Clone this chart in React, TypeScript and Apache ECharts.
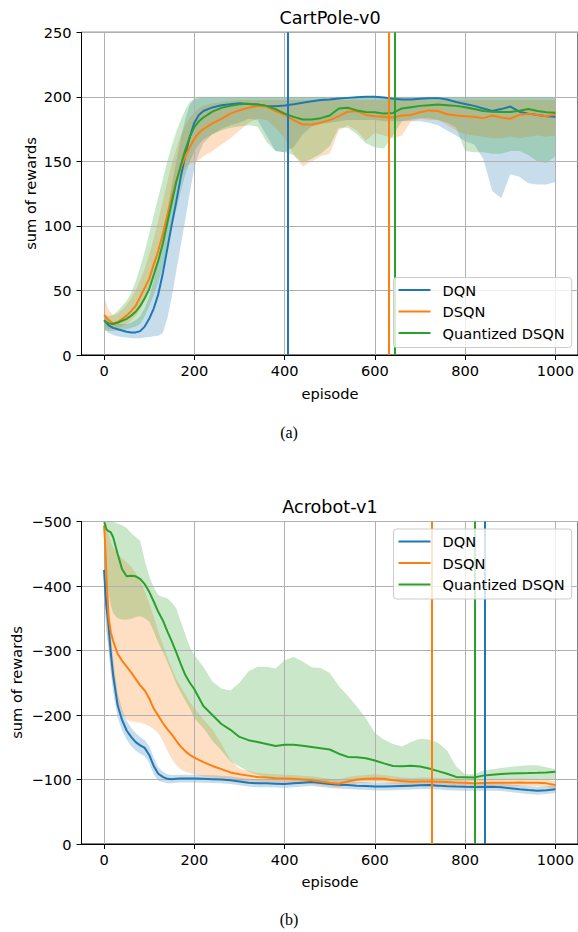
import React, { useEffect, useRef } from 'react';
import * as echarts from 'echarts';

// ---------------- data ----------------
const NAMES = ['DQN', 'DSQN', 'Quantized DSQN'];
const COLORS = ['#1f77b4', '#ff7f0e', '#2ca02c'];
const BAND_COLORS = ['rgba(31,119,180,0.25)', 'rgba(255,127,14,0.25)', 'rgba(44,160,44,0.25)'];
const X_TICKS = [0, 200, 400, 600, 800, 1000];

// (a) CartPole-v0
const EP_A = [0, 10, 20, 30, 40, 50, 60, 70, 80, 90, 100, 110, 120, 130, 140, 150, 160, 170, 180, 190, 200, 210, 220,
  240, 260, 280, 300, 320, 340, 360, 380, 400, 420, 440, 460, 480, 500, 520, 540, 560, 580, 600, 620,
  640, 660, 680, 700, 720, 740, 760, 780, 800, 820, 840, 860, 880, 900, 920, 940, 960, 980, 1000];

const DQN_A_MEAN = [27, 23, 21, 20, 19, 18, 17.5, 17.5, 18.5, 22, 28, 36, 47, 63, 82, 101, 119, 138, 155, 169, 180, 186, 189,
  191.8, 193.5, 194.3, 195, 194.5, 194, 193, 192.7, 193.3, 194.3, 195.5, 196.5, 197.5, 198, 198.7, 199.2, 199.7, 200, 200, 199.5,
  198.5, 198, 198, 198.5, 199, 199, 198, 196, 194.5, 193, 191, 189, 190.5, 192.5, 188.5, 187, 186, 185, 184.5];
const DQN_A_LO = [20, 17, 15.5, 14.5, 14, 13.5, 13, 13, 13, 13.5, 14, 14.5, 15, 17, 28, 45, 65, 85, 105, 126, 145, 156, 164,
  171, 175, 178, 180, 183, 182, 170, 158, 157, 161, 171, 177, 179, 180, 181, 182, 182, 182, 182, 181,
  181, 181, 181, 181, 180, 178, 174, 170, 165.5, 163, 152, 127, 121.5, 140, 138, 133, 132, 132, 134];
const DQN_A_HI = [33, 28, 25, 24, 24, 24, 25, 27, 30, 36, 45, 58, 74, 92, 112, 132, 150, 168, 183, 194, 198, 199, 199.5,
  199.5, 199.5, 199.5, 199.5, 199.5, 199.5, 199.5, 199.5, 199.5, 199.5, 199.5, 199.5, 199.5, 199.5, 199.5, 199.5, 199.5, 199.5, 199.5, 199.5,
  199.5, 199.5, 199.5, 199.5, 199.5, 199.5, 199.5, 199.5, 199.5, 199.5, 199.5, 199.5, 199.5, 199.5, 199.5, 199.5, 199.5, 199.5, 199.5];

const DSQN_A_MEAN = [31, 27, 24.5, 25.5, 28, 30.5, 34, 38, 45, 52, 59, 70, 80.5, 93.5, 108, 122, 135, 145, 154, 161, 167.5, 172, 175,
  179.5, 183, 187, 189.5, 191.5, 193, 192.5, 189, 186, 182, 178.5, 178.5, 180, 182, 185, 188.5, 189, 186, 185, 184.5,
  184, 185.5, 186, 188, 189.5, 189, 186.5, 185.5, 185, 184.5, 183.5, 185.5, 184, 183, 186, 187, 186, 185, 186.5];
const DSQN_A_LO = [22, 20, 20, 21, 22, 24, 27, 30, 35, 42, 51, 62, 75, 90, 106, 120, 132, 140, 145, 148, 149, 151, 154,
  158, 163, 168, 174, 180, 183, 182, 176, 168, 155, 146, 150, 154, 156, 174, 178, 174, 166, 172, 170,
  168, 170, 181, 183, 182, 182, 178, 174, 171, 170, 169, 168, 168, 169, 168, 169, 170, 169, 170];
const DSQN_A_HI = [45, 35, 31, 32, 35, 39, 44, 50, 58, 67, 78, 90, 104, 119, 134, 148, 160, 170, 178, 184, 188, 191, 193,
  195, 196, 197, 197.5, 197.5, 197.5, 197.5, 197.5, 197.5, 197.5, 197.5, 197.5, 197.5, 197.5, 197.5, 197.5, 197.5, 197.5, 197.5, 197.5,
  197.5, 197.5, 197.5, 197.5, 197.5, 197.5, 197.5, 197.5, 197.5, 197.5, 197.5, 197.5, 197.5, 197.5, 197.5, 197.5, 197.5, 197.5, 197.5];

const QD_A_MEAN = [26.5, 24.5, 24, 25, 26.5, 28, 30.5, 33.5, 38, 44, 51, 62, 73, 86, 102, 118, 134, 147, 159, 169, 176.5, 181, 184,
  188.5, 191.5, 193, 194.3, 194.7, 194, 193, 190.5, 187, 184.5, 182.5, 182.5, 183.5, 185.5, 191, 191.5, 189.5, 188.3, 188, 187,
  187.5, 191, 192, 193, 193.5, 194, 193.5, 193, 192, 190.5, 189, 188.5, 188.3, 188.3, 189.3, 190.5, 189, 188, 187.6];
const QD_A_LO = [19, 18.5, 18.5, 19, 19.5, 20, 21, 22, 24, 30, 38, 46, 56, 68, 84, 100, 113, 127, 140, 150, 158, 163, 167,
  171, 174, 176, 177, 178, 177, 165, 158, 157, 155, 149, 152, 156, 162, 176, 176, 171, 164, 161, 160,
  170, 181, 182.5, 183.5, 183.5, 182, 180, 176, 158, 157, 157, 156, 156, 158, 158, 155, 150, 149, 154];
const QD_A_HI = [31, 30, 31, 34, 38, 42, 48, 57, 68, 80, 94, 108, 122, 136, 150, 162, 173, 182, 190, 196, 199, 200, 200,
  200, 200, 200, 200, 200, 200, 200, 200, 200, 200, 200, 200, 200, 200, 200, 200, 200, 200, 200, 200,
  200, 200, 200, 200, 200, 200, 200, 200, 200, 200, 200, 200, 200, 200, 200, 200, 200, 200, 200];

const VLINES_A = [407, 630, 644];

// (b) Acrobot-v1
const EP_B = [0, 2, 5, 10, 15, 20,
  30, 40, 50, 60, 70, 80, 90, 100, 110, 120,
  130, 140, 150, 160, 170, 180, 190, 200,
  220, 240, 260, 280, 300, 320, 340, 360, 380, 400,
  420, 440, 460, 480, 500, 520, 540, 560, 580, 600,
  620, 640, 660, 680, 700, 720, 740, 760, 780, 800,
  820, 840, 860, 880, 900, 920, 940, 960, 980, 1000];

const DQN_B_MEAN = [-425, -400, -370, -338, -295, -262,
  -215, -192, -176, -166, -158, -153, -149, -138, -121, -109,
  -104, -101, -100.5, -101, -101.5, -101.5, -101.5, -101.5,
  -101, -100.5, -100, -99, -97, -95, -94, -94, -93.5, -93,
  -94, -95, -96, -94.5, -93, -92, -91.3, -90.5, -90, -89,
  -89, -89.5, -90, -90.5, -91, -91.3, -90.5, -89.5, -89, -88.7,
  -88.5, -88.5, -88.7, -88, -86.5, -85, -83.6, -82.5, -83.5, -85];
const DQN_B_LO = [-470, -445, -410, -370, -325, -290,
  -235, -208, -191, -180, -172, -166, -161, -152, -134, -119,
  -112, -108, -107, -107, -107.5, -107.5, -107.5, -107.5,
  -107, -106.5, -106, -105, -103, -101, -100, -100, -99.5, -99,
  -100, -101, -102, -100.5, -99, -98, -97.3, -96.5, -96, -95,
  -95, -95.5, -96, -96.5, -97, -97.3, -96.5, -95.5, -95, -94.7,
  -94.5, -94.5, -94.7, -94, -92.5, -91, -89.6, -88.5, -89.5, -91];
const DQN_B_HI = [-390, -360, -330, -305, -265, -236,
  -196, -176, -162, -152, -145, -140, -136, -126, -108, -98,
  -96, -94, -94, -95, -95.5, -95.5, -95.5, -95.5,
  -95, -94.5, -94, -93, -91, -89, -88, -88, -87.5, -87,
  -88, -89, -90, -88.5, -87, -86, -85.3, -84.5, -84, -83,
  -83, -83.5, -84, -84.5, -85, -85.3, -84.5, -83.5, -83, -82.7,
  -82.5, -82.5, -82.7, -82, -80.5, -79, -77.6, -76.5, -77.5, -79];

const DSQN_B_MEAN = [-494, -470, -420, -352, -328, -315,
  -295, -284, -275, -266, -256, -246, -238, -226, -210, -199,
  -188, -178, -170, -160, -151, -144, -138, -134,
  -127, -121, -116, -111, -108, -106, -104, -103, -102, -101.5,
  -101, -100, -99, -97, -95, -93.5, -97, -100, -101, -101.7,
  -101, -99, -97.5, -96.5, -97, -97, -96.5, -96, -95.5, -95,
  -94, -94.5, -95, -95, -95, -95.5, -95, -95, -94, -91.5];
const DSQN_B_LO = [-500, -499, -494, -480, -468, -460,
  -450, -443, -437, -430, -420, -408, -392, -373, -353, -330,
  -310, -290, -273, -256, -244, -232, -220, -211,
  -193, -178, -155, -130, -117, -113, -110, -109, -108, -107.5,
  -107, -106, -105, -103, -101, -100, -104, -106, -107, -108,
  -107, -105, -103.5, -102.5, -103, -103, -102.5, -102, -101.5, -101,
  -100, -100.5, -101, -101, -101, -101.5, -101, -101, -100, -97.5];
const DSQN_B_HI = [-420, -385, -345, -300, -270, -250,
  -218, -202, -193, -190, -189, -188, -186, -183, -178, -172,
  -160, -145, -132, -122, -116, -112, -110, -108,
  -105, -103, -101, -99.5, -98, -97, -96.5, -96, -95.5, -95.5,
  -95, -94, -93, -91, -89, -87.5, -91, -94, -95, -95.5,
  -95, -93, -91.5, -90.5, -91, -91, -90.5, -90, -89.5, -89,
  -88, -88.5, -89, -89, -89, -89.5, -89, -89, -88, -85.5];

const QD_B_MEAN = [-499, -496, -488, -485, -483, -476,
  -450, -426, -415, -416, -415, -411, -403, -391, -376, -360,
  -347, -330, -314, -297, -279, -262, -250, -240,
  -214, -200, -186, -177, -166, -161, -158, -155, -152, -154,
  -154, -152.5, -150.5, -148.5, -146.5, -140, -135, -134.5, -133, -129.5,
  -125, -121, -120.5, -121.5, -120, -117, -113, -109, -104, -103.5,
  -103, -106, -107.5, -108.5, -109.4, -109.8, -110, -110.4, -111, -112];
const QD_B_LO = [-500, -500, -500, -500, -500, -500,
  -497, -494, -490, -482, -476, -470, -440, -415, -398, -386,
  -383, -381, -375, -365, -345, -325, -305, -293,
  -275, -252, -241, -238, -250, -268, -275, -275, -272, -285,
  -290, -283, -274, -273, -265, -245, -230, -213, -195, -172,
  -162, -155, -151, -158, -163, -162, -157, -145, -120, -108,
  -108, -114, -116, -118, -119.6, -121, -122, -122, -119, -116];
const QD_B_HI = [-470, -450, -420, -390, -370, -358,
  -350, -348, -348, -349, -352, -353, -350, -345, -330, -312,
  -298, -282, -266, -248, -235, -222, -210, -195,
  -180, -160, -145, -128, -120, -112, -107, -103, -101, -100,
  -99, -98.5, -98, -98, -97.5, -97, -97, -97.5, -98, -98,
  -98, -97.5, -97, -96.5, -97, -97, -97, -97, -97.5, -98,
  -98, -98.5, -99, -99, -99.5, -99.5, -100, -100, -100, -100];

const VLINES_B = [844, 726, 822];

// ---------------- styling ----------------
const FONT = 'DejaVu Sans';
const FS = 14.6;
const LEGEND_ICON = 'path://M0 0H32V2H0Z';

function bandSeries(idx: number, ep: number[], lo: number[], hi: number[], color: string, name: string) {
  return {
    type: 'custom',
    name,
    xAxisIndex: idx,
    yAxisIndex: idx,
    silent: true,
    z: 0,
    data: [[ep[0], lo[0]]],
    renderItem: (_params: any, api: any) => {
      const upper = ep.map((x, i) => api.coord([x, hi[i]]));
      const lower = ep.map((x, i) => api.coord([x, lo[i]])).reverse();
      return {
        type: 'polygon',
        shape: { points: upper.concat(lower) },
        style: { fill: color, stroke: 'none' },
      };
    },
  };
}

function lineSeries(idx: number, ep: number[], vals: number[], color: string, name: string, vline: number) {
  return {
    type: 'line',
    name,
    xAxisIndex: idx,
    yAxisIndex: idx,
    data: ep.map((x, i) => [x, vals[i]]),
    symbol: 'none',
    showSymbol: false,
    z: 3,
    lineStyle: { color, width: 2 },
    itemStyle: { color },
    emphasis: { disabled: true },
    markLine: {
      silent: true,
      symbol: ['none', 'none'],
      label: { show: false },
      lineStyle: { color, width: 2, type: 'solid' },
      data: [{ xAxis: vline }],
      animation: false,
    },
  };
}

const minus = (v: number) => (v < 0 ? '\u2212' + String(-v) : String(v));

function xAxis(idx: number) {
  return {
    type: 'value',
    gridIndex: idx,
    min: -50,
    max: 1050,
    z: 1,
    axisLine: { onZero: false, lineStyle: { color: '#000', width: 1 } },
    axisTick: { show: true, length: 5, inside: false, lineStyle: { color: '#000', width: 1 }, customValues: X_TICKS },
    axisLabel: { customValues: X_TICKS, color: '#000', fontFamily: FONT, fontSize: FS, margin: 8, formatter: (v: number) => String(v) },
    splitLine: { show: true, lineStyle: { color: '#b0b0b0', width: 1 } },
  };
}

function yAxis(idx: number, min: number, max: number, interval: number, inverse: boolean) {
  return {
    type: 'value',
    gridIndex: idx,
    min,
    max,
    interval,
    inverse,
    z: 1,
    axisLine: { onZero: false, lineStyle: { color: '#000', width: 1 } },
    axisTick: { show: true, length: 5, inside: false, lineStyle: { color: '#000', width: 1 } },
    axisLabel: { color: '#000', fontFamily: FONT, fontSize: FS, margin: 10, formatter: minus },
    splitLine: { show: true, lineStyle: { color: '#b0b0b0', width: 1 } },
  };
}

const legendBase = {
  orient: 'vertical',
  data: NAMES.map((name) => ({ name, icon: LEGEND_ICON })),
  selectedMode: false,
  itemWidth: 32,
  itemHeight: 15,
  itemGap: 6.5,
  symbolKeepAspect: true,
  padding: [5, 7, 7, 5],
  backgroundColor: 'rgba(255,255,255,0.8)',
  borderColor: '#cccccc',
  borderWidth: 1,
  borderRadius: 3,
  textStyle: { fontFamily: FONT, fontSize: FS, color: '#000', padding: [0, 0, 0, 7] },
  z: 10,
};

function txt(text: string, x: number, y: number, size: number, family: string, rotation = 0) {
  return {
    type: 'text',
    x,
    y,
    rotation,
    silent: true,
    style: {
      text,
      fill: '#000',
      fontFamily: family,
      fontSize: size,
      align: 'center',
      verticalAlign: 'middle',
      textAlign: 'center',
      textVerticalAlign: 'middle',
    },
  };
}

export default function App() {
  const ref = useRef<HTMLDivElement>(null);
  useEffect(() => {
    if (!ref.current) return;
    const chart = echarts.init(ref.current, null, { renderer: 'svg' });
    const option: any = {
      animation: false,
      backgroundColor: '#ffffff',
      textStyle: { fontFamily: FONT },
      grid: [
        { left: 81.5, top: 32.3, width: 497, height: 322.7, show: true, borderColor: '#000', borderWidth: 1, backgroundColor: 'transparent' },
        { left: 81.5, top: 521.5, width: 497, height: 322.5, show: true, borderColor: '#000', borderWidth: 1, backgroundColor: 'transparent' },
      ],
      xAxis: [xAxis(0), xAxis(1)],
      yAxis: [yAxis(0, 0, 250, 50, false), yAxis(1, -500, 0, 100, true)],
      legend: [
        { ...legendBase, left: 393.5, top: 277.5 },
        { ...legendBase, left: 393.5, top: 529 },
      ],
      series: [
        bandSeries(0, EP_A, DQN_A_LO, DQN_A_HI, BAND_COLORS[0], 'DQN band'),
        bandSeries(0, EP_A, DSQN_A_LO, DSQN_A_HI, BAND_COLORS[1], 'DSQN band'),
        bandSeries(0, EP_A, QD_A_LO, QD_A_HI, BAND_COLORS[2], 'Quantized DSQN band'),
        lineSeries(0, EP_A, DQN_A_MEAN, COLORS[0], NAMES[0], VLINES_A[0]),
        lineSeries(0, EP_A, DSQN_A_MEAN, COLORS[1], NAMES[1], VLINES_A[1]),
        lineSeries(0, EP_A, QD_A_MEAN, COLORS[2], NAMES[2], VLINES_A[2]),
        bandSeries(1, EP_B, DQN_B_LO, DQN_B_HI, BAND_COLORS[0], 'DQN band b'),
        bandSeries(1, EP_B, DSQN_B_LO, DSQN_B_HI, BAND_COLORS[1], 'DSQN band b'),
        bandSeries(1, EP_B, QD_B_LO, QD_B_HI, BAND_COLORS[2], 'Quantized DSQN band b'),
        lineSeries(1, EP_B, DQN_B_MEAN, COLORS[0], NAMES[0], VLINES_B[0]),
        lineSeries(1, EP_B, DSQN_B_MEAN, COLORS[1], NAMES[1], VLINES_B[1]),
        lineSeries(1, EP_B, QD_B_MEAN, COLORS[2], NAMES[2], VLINES_B[2]),
      ],
      graphic: [
        txt('CartPole-v0', 330, 17.5, 17.6, FONT),
        txt('Acrobot-v1', 330, 506.5, 17.6, FONT),
        txt('episode', 330, 393, FS, FONT),
        txt('episode', 330, 881, FS, FONT),
        txt('sum of rewards', 30, 193.5, FS, FONT, Math.PI / 2),
        txt('sum of rewards', 16, 682.5, FS, FONT, Math.PI / 2),
        txt('(a)', 289, 432, 16, 'Liberation Serif'),
        txt('(b)', 289, 919, 16, 'Liberation Serif'),
      ],
    };
    chart.setOption(option);
    return () => chart.dispose();
  }, []);
  return (
    <div
      ref={ref}
      style={{ position: 'absolute', left: 0, top: 0, width: 578, height: 932, background: '#fff' }}
    />
  );
}
